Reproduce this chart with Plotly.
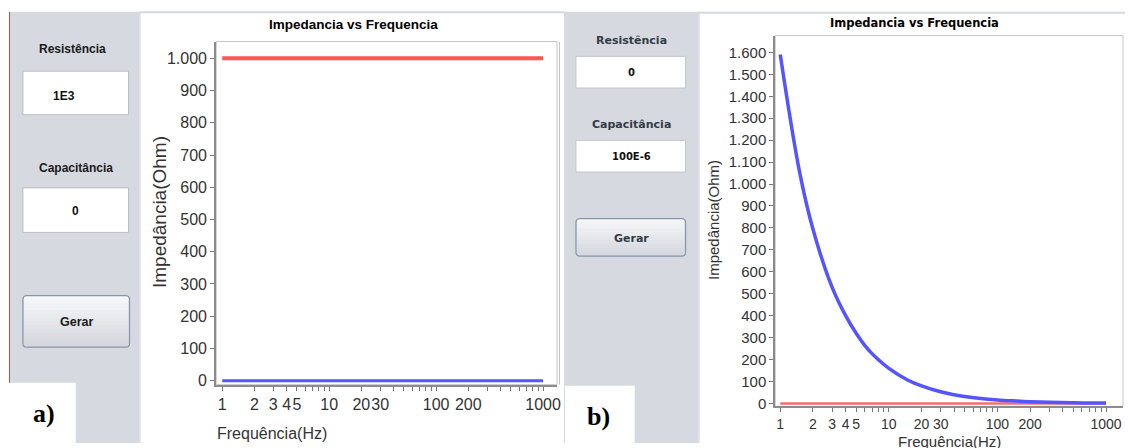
import plotly.graph_objects as go

W, H = 1129, 448

# ---------------- data ----------------
freq = [1, 1.5, 2, 3, 4, 5, 6, 7, 8, 10, 15, 20, 30, 40, 50, 70, 100, 150, 200, 300, 500, 700, 1000]
# panel a) R = 1E3, C = 0
res_a = [1000, 1000, 1000, 1000, 1000, 1000, 1000, 1000, 1000, 1000, 1000, 1000,
         1000, 1000, 1000, 1000, 1000, 1000, 1000, 1000, 1000, 1000, 1000]
cap_a = [0, 0, 0, 0, 0, 0, 0, 0, 0, 0, 0, 0, 0, 0, 0, 0, 0, 0, 0, 0, 0, 0, 0]
# panel b) R = 0, C = 100E-6
res_b = [0, 0, 0, 0, 0, 0, 0, 0, 0, 0, 0, 0, 0, 0, 0, 0, 0, 0, 0, 0, 0, 0, 0]
cap_b = [1590, 1060, 795, 530, 400, 320, 265, 227, 200, 160, 106, 80, 53, 40, 32,
         23, 16, 11, 8, 5, 3, 2, 1.6]

x_tickvals = [1, 2, 3, 4, 5, 6, 7, 8, 9, 10, 20, 30, 40, 50, 60, 70, 80, 90,
              100, 200, 300, 400, 500, 600, 700, 800, 900, 1000]
x_labeled = {1: "1", 2: "2", 3: "3", 4: "4", 5: "5", 10: "10", 20: "20", 30: "30",
             100: "100", 200: "200", 1000: "1000"}
x_ticktext = [x_labeled.get(v, "") for v in x_tickvals]

ya_tickvals = [0, 100, 200, 300, 400, 500, 600, 700, 800, 900, 1000]
ya_ticktext = ["0", "100", "200", "300", "400", "500", "600", "700", "800", "900", "1.000"]
yb_tickvals = [0, 100, 200, 300, 400, 500, 600, 700, 800, 900, 1000,
               1100, 1200, 1300, 1400, 1500, 1600]
yb_ticktext = ["0", "100", "200", "300", "400", "500", "600", "700", "800", "900",
               "1.000", "1.100", "1.200", "1.300", "1.400", "1.500", "1.600"]

title_txt = "Impedancia vs Frequencia"
xtitle_txt = "Frequência(Hz)"
ytitle_txt = "Impedância(Ohm)"

# ---------------- helpers (pixel -> paper coords) ----------------
def px(x):
    return x / W

def py(y):
    return 1 - y / H

shapes = []
annotations = []

def rect(x0, y0, x1, y1, fill, line=None, lw=0, layer="below"):
    shapes.append(dict(type="rect", xref="paper", yref="paper",
                       x0=px(x0), x1=px(x1), y0=py(y1), y1=py(y0),
                       fillcolor=fill, layer=layer,
                       line=dict(color=line if line else fill, width=lw)))

def hline(x0, x1, y, color, lw=1, layer="below"):
    shapes.append(dict(type="line", xref="paper", yref="paper",
                       x0=px(x0), x1=px(x1), y0=py(y), y1=py(y),
                       line=dict(color=color, width=lw), layer=layer))

def vline(x, y0, y1, color, lw=1, layer="below"):
    shapes.append(dict(type="line", xref="paper", yref="paper",
                       x0=px(x), x1=px(x), y0=py(y0), y1=py(y1),
                       line=dict(color=color, width=lw), layer=layer))

def text(x, y, s, size, family, color="#111", bold=False, angle=0):
    annotations.append(dict(xref="paper", yref="paper", x=px(x), y=py(y),
                            text=("<b>%s</b>" % s) if bold else s,
                            showarrow=False, xanchor="center", yanchor="middle",
                            textangle=angle,
                            font=dict(size=size, family=family, color=color)))

def button(x0, y0, x1, y1, r=4):
    n = 14
    top = (247, 248, 250)
    bot = (212, 215, 221)
    h = (y1 - y0) / n
    for i in range(n):
        t = i / (n - 1)
        c = tuple(int(top[k] + (bot[k] - top[k]) * t) for k in range(3))
        rect(x0 + 1, y0 + i * h, x1 - 1, y0 + (i + 1) * h + 0.5, "rgb(%d,%d,%d)" % c)
    pts = ("M {a},{b} L {c},{b} Q {d},{b} {d},{e} L {d},{f} Q {d},{g} {c},{g} "
           "L {a},{g} Q {h},{g} {h},{f} L {h},{e} Q {h},{b} {a},{b} Z")
    path = pts.format(a=px(x0 + r), b=py(y0), c=px(x1 - r), d=px(x1), e=py(y0 + r),
                      f=py(y1 - r), g=py(y1), h=px(x0))
    shapes.append(dict(type="path", xref="paper", yref="paper", path=path,
                       line=dict(color="#8795aa", width=1.2), layer="below"))

GRAY = "#d6d9df"
SANS = "Liberation Sans, Arial, sans-serif"
DEJAVU = "DejaVu Sans, Verdana, sans-serif"
SERIF = "Liberation Serif, Times New Roman, serif"

# ---------------- GUI panel a ----------------
rect(9, 12, 140, 448, GRAY)
vline(9.5, 12, 448, "#8a5a4e", 1)
hline(140, 566, 12.5, "#d3d7de", 2)
vline(140.5, 12, 448, "#d3d7de", 1)

text(73, 50, "Resistência", 12, SANS, "#1a1a1a", bold=True)
rect(23, 72, 129, 116, "white", "#b9bdc4", 1)
text(64, 97, "1E3", 12, SANS, "#111", bold=True)
text(76, 170, "Capacitância", 12, SANS, "#1a1a1a", bold=True)
rect(23, 190, 129, 235, "white", "#b9bdc4", 1)
text(76, 213, "0", 12, SANS, "#111", bold=True)
button(23, 299, 130, 351)
text(77, 326, "Gerar", 12.5, SANS, "#1a1a1a", bold=True)
rect(0, 387, 76, 448, "white")
text(44, 418, "a)", 26, SERIF, "#000", bold=True)

# chart a frame
rect(217, 42, 559, 389, "white", "#c6c6c6", 1)
text(355, 25, title_txt, 13.5, SANS, "#000", bold=True)
text(273, 438, xtitle_txt, 16, SANS, "#333")
text(160, 214, ytitle_txt, 19, SANS, "#333", angle=-90)

# ---------------- GUI panel b ----------------
rect(566, 12, 701, 448, GRAY)
hline(701, 1129, 13, "#d3d7de", 2)
vline(701.5, 12, 448, "#d3d7de", 1)
vline(561.5, 42, 389, "#c6c6c6", 1)

text(634, 41, "Resistência", 11, DEJAVU, "#333b46", bold=True)
rect(578, 57, 688, 89, "white", "#c2c6cc", 1)
text(634, 73, "0", 10, DEJAVU, "#111", bold=True)
text(634, 126, "Capacitância", 11, DEJAVU, "#333b46", bold=True)
rect(578, 142, 688, 174, "white", "#c2c6cc", 1)
text(634, 158, "100E-6", 10, DEJAVU, "#111", bold=True)
button(578, 221, 688, 259)
text(634, 241, "Gerar", 11, DEJAVU, "#333b46", bold=True)
rect(567, 390, 637, 448, "white")
text(601, 421, "b)", 26, SERIF, "#000", bold=True)

# chart b frame
rect(778, 36, 1127, 411, "white", "#c6c6c6", 1)
text(918, 23, title_txt, 11.5, DEJAVU, "#000", bold=True)
text(953, 446, xtitle_txt, 15, SANS, "#333")
text(716, 222, ytitle_txt, 15, SANS, "#333", angle=-90)

# ---------------- traces ----------------
RED = "#ff5555"
BLUE = "#5555ff"
fig = go.Figure()
fig.add_trace(go.Scatter(x=freq, y=res_a, mode="lines", line=dict(color=RED, width=4),
                         xaxis="x", yaxis="y", hoverinfo="skip"))
fig.add_trace(go.Scatter(x=freq, y=cap_a, mode="lines", line=dict(color=BLUE, width=3),
                         xaxis="x", yaxis="y", hoverinfo="skip"))
fig.add_trace(go.Scatter(x=freq, y=res_b, mode="lines", line=dict(color="#ff6b6b", width=2.5),
                         xaxis="x2", yaxis="y2", hoverinfo="skip"))
fig.add_trace(go.Scatter(x=freq, y=cap_b, mode="lines", line=dict(color=BLUE, width=3.5, shape="spline"),
                         xaxis="x2", yaxis="y2", hoverinfo="skip"))

def xaxis(domain, rng, anchor, size):
    return dict(type="log", domain=domain, range=rng, anchor=anchor,
                tickvals=x_tickvals, ticktext=x_ticktext, tickangle=0,
                ticks="outside", ticklen=4, tickcolor="#777", tickwidth=1,
                showline=True, linecolor="#8c8c8c", linewidth=2,
                showgrid=False, zeroline=False, fixedrange=True,
                tickfont=dict(size=size, family=SANS, color="#333"))

def yaxis(domain, rng, anchor, tv, tt, size):
    return dict(domain=domain, range=rng, anchor=anchor,
                tickvals=tv, ticktext=tt,
                ticks="outside", ticklen=4, tickcolor="#777", tickwidth=1,
                showline=True, linecolor="#8c8c8c", linewidth=2,
                showgrid=False, zeroline=False, fixedrange=True,
                tickfont=dict(size=size, family=SANS, color="#333"))

fig.update_layout(
    width=W, height=H, margin=dict(l=0, r=0, t=0, b=0),
    paper_bgcolor="white", plot_bgcolor="rgba(0,0,0,0)",
    showlegend=False, hovermode=False,
    xaxis=xaxis([px(217), px(559)], [-0.0559, 3.1305], "y", 16),
    yaxis=yaxis([py(389), py(42)], [-12.3, 1052], "x", ya_tickvals, ya_ticktext, 16),
    xaxis2=xaxis([px(778), px(1127)], [-0.0459, 3.156], "y2", 14),
    yaxis2=yaxis([py(411), py(36)], [-13.5, 1676.6], "x2", yb_tickvals, yb_ticktext, 15),
    shapes=shapes, annotations=annotations,
)

fig.write_html("out.html", config={"displayModeBar": False},
               post_script="document.body.style.margin='0';document.body.style.overflow='hidden';")
